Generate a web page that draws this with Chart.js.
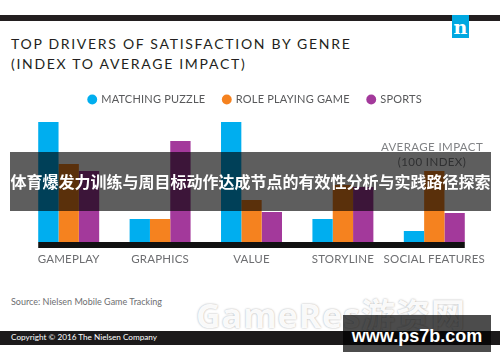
<!DOCTYPE html>
<html>
<head>
<meta charset="utf-8">
<script src="https://cdn.jsdelivr.net/npm/chart.js@4"></script>
<style>
  html, body { margin: 0; padding: 0; background: #fff; }
  body { width: 500px; height: 362px; position: relative; overflow: hidden; font-family: Lato, 'Open Sans', sans-serif; }
  .abs { position: absolute; }
  #topbar { left: 0; top: 15px; width: 500px; height: 6px; background: #231f20; }
  #logo { left: 452px; top: 15px; width: 17px; height: 23px; background: #00a8e1; color: #fff;
          font: bold 19px 'DejaVu Serif', serif; text-align: center; line-height: 25px; }
  #title { left: 11px; top: 34px; color: #231f20; font-size: 14px; letter-spacing: 1.7px; line-height: 20px; }
  #chartBox { left: 0; top: 76px; width: 500px; height: 199px; }
  #avg { left: 372px; top: 139px; width: 120px; text-align: center; color: #808285; font-size: 11.5px; line-height: 15px; letter-spacing: 0.4px; }
  #banner { left: 10px; top: 152px; width: 481px; height: 59px; background: rgba(0,0,0,0.63); color: #fff;
            font: bold 16px 'Noto Sans CJK SC', sans-serif; line-height: 59px; text-align: center; white-space: nowrap; }
  #source { left: 11px; top: 296px; color: #6d6e71; font-size: 9px; }
  #mark { left: 196px; top: 289px; color: rgba(255,255,255,0.95); font: bold 34px 'Open Sans', 'Noto Sans CJK SC', sans-serif;
          text-shadow: 0 0 2px rgba(0,0,0,0.35); letter-spacing: 1px; white-space: nowrap; }
  #footer { left: 0; top: 331px; width: 500px; height: 14px; background: #1c1a1b; }
  #copy { left: 11px; top: 332px; color: #fff; font-size: 8.2px; }
  #site { left: 343px; top: 315px; width: 148px; height: 37px; background: rgba(0,0,0,0.7); color: #fff;
          font: bold 18px 'Liberation Sans', Arial, sans-serif; text-align: center; line-height: 42px; }
</style>
</head>
<body>
<div id="topbar" class="abs"></div>
<div id="logo" class="abs">n</div>
<div id="title" class="abs">TOP DRIVERS OF SATISFACTION BY GENRE<br>(INDEX TO AVERAGE IMPACT)</div>
<div id="chartBox" class="abs"><canvas id="chart"></canvas></div>
<div id="avg" class="abs">AVERAGE IMPACT<br>(100 INDEX)</div>
<div id="banner" class="abs">体育爆发力训练与周目标动作达成节点的有效性分析与实践路径探索</div>
<div id="source" class="abs">Source: Nielsen Mobile Game Tracking</div>
<div id="mark" class="abs">GameRes游资网</div>
<div id="footer" class="abs"></div>
<div id="copy" class="abs">Copyright © 2016 The Nielsen Company</div>
<div id="site" class="abs">www.ps7b.com</div>

<script>
// index values (bar heights)
const categories = ['GAMEPLAY', 'GRAPHICS', 'VALUE', 'STORYLINE', 'SOCIAL FEATURES'];
const matchingPuzzle = [120, 23, 120, 23, 11];
const rolePlaying = [78, 23, 42, 57, 71];
const sports = [71, 101, 30, 55, 29];

const baseBar = {
    id: 'baseBar',
    afterDatasetsDraw(chart) {
        const first = chart.getDatasetMeta(0).data[0];
        const last = chart.getDatasetMeta(2).data[categories.length - 1];
        const ctx = chart.ctx;
        const left = first.x - first.width / 2;
        const right = last.x + last.width / 2;
        ctx.save();
        ctx.fillStyle = '#111';
        ctx.fillRect(left, chart.chartArea.bottom, right - left, 6);
        ctx.restore();
    }
};

const spacing = {
    id: 'spacing',
    beforeDraw(chart) { chart.ctx.letterSpacing = '0.2px'; }
};

new Chart(document.getElementById('chart'), {
    type: 'bar',
    data: {
        labels: categories,
        datasets: [
            { label: 'MATCHING PUZZLE', data: matchingPuzzle, backgroundColor: '#00aeef' },
            { label: 'ROLE PLAYING GAME', data: rolePlaying, backgroundColor: '#f5821f' },
            { label: 'SPORTS', data: sports, backgroundColor: '#a3399b' }
        ]
    },
    options: {
        responsive: true,
        maintainAspectRatio: false,
        animation: false,
        datasets: { bar: { categoryPercentage: 0.667, barPercentage: 1.0 } },
        layout: { padding: { left: 23, right: 20, top: 0, bottom: 0 } },
        plugins: {
            legend: {
                labels: {
                    usePointStyle: true, pointStyle: 'circle', boxWidth: 7, boxHeight: 7,
                    padding: 18, color: '#58595b', font: { family: 'Lato', size: 11 }
                }
            },
            tooltip: { enabled: false }
        },
        scales: {
            x: {
                grid: { display: false, drawTicks: false },
                border: { display: false },
                ticks: { color: '#6d6e71', font: { family: 'Lato', size: 11.5 }, padding: 10, maxRotation: 0, autoSkip: false },
                afterFit(s) { s.height = 33; }
            },
            y: { display: false, min: 0, max: 127 }
        }
    },
    plugins: [baseBar, spacing]
});
</script>
</body>
</html>
